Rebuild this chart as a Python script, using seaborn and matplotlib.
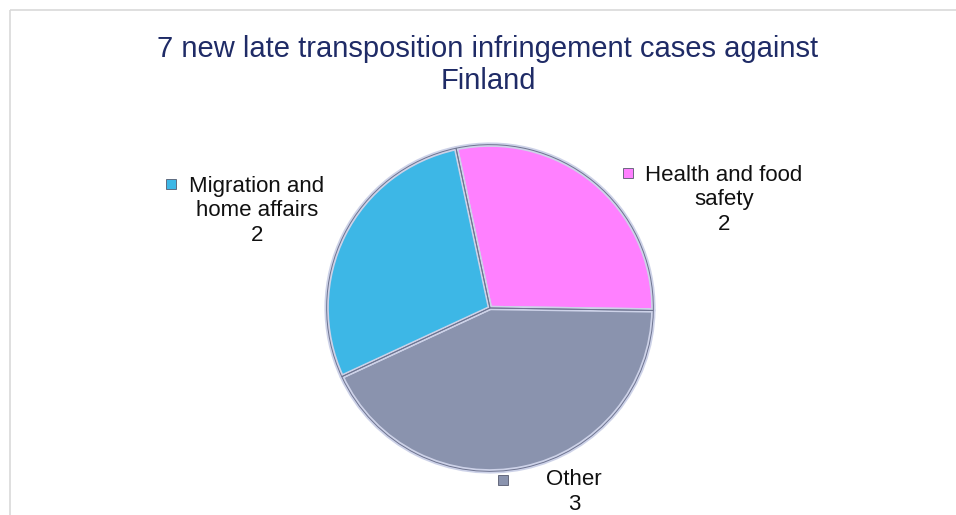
import matplotlib
matplotlib.use("Agg")
import matplotlib.pyplot as plt
import seaborn as sns
from matplotlib.patches import Rectangle

# data
categories = ["Health and food\nsafety", "Other", "Migration and\nhome affairs"]
case_counts = [2, 3, 2]
slice_colors = ["#FF80FF", "#8A93AE", "#3DB7E6"]
chart_title = "7 new late transposition infringement cases against\nFinland"

sns.set_theme(style="white")
plt.rcParams["font.family"] = ["Liberation Sans", "DejaVu Sans"]

W, H = 956, 515
fig = plt.figure(figsize=(W / 100, H / 100), dpi=100)
fig.patch.set_facecolor("white")

# background axes in pixel coordinates for frame, title and labels
bg = fig.add_axes([0, 0, 1, 1])
bg.set_xlim(0, W)
bg.set_ylim(H, 0)
bg.axis("off")
bg.add_patch(Rectangle((10, 10), W, H, fill=False, edgecolor="#d9d9d9", lw=1.2))
bg.text(488, 65, chart_title, ha="center", va="center", fontsize=21,
        color="#1F2B66", linespacing=1.2)

# pie axes: centre (490, 308) px, radius ~165 px
cx, cy, r = 490, 308, 165
ax = fig.add_axes([(cx - r) / W, (H - cy - r) / H, 2 * r / W, 2 * r / H])
wedges, _ = ax.pie(
    case_counts,
    colors=slice_colors,
    startangle=102,
    counterclock=False,
    radius=0.99,
    wedgeprops=dict(edgecolor="#CDD2E8", linewidth=3.2),
)
for w in wedges:
    w.set_joinstyle("round")
# thin darker outer rim
ax.pie(case_counts, colors=["none"] * 3, startangle=102, counterclock=False,
       radius=0.99, wedgeprops=dict(edgecolor="#6E7490", linewidth=0.7, fill=False))
ax.set_xlim(-1.0, 1.0)
ax.set_ylim(-1.0, 1.0)
ax.set_aspect("equal")
ax.axis("off")

# data labels with legend-key squares (pixel positions)
label_spots = [(724, 200, 628, 173), (574, 492, 503, 480), (257, 211, 171, 184)]
for name, n, col, (tx, ty, mx, my) in zip(categories, case_counts, slice_colors, label_spots):
    bg.text(tx, ty, f"{name}\n{n}", ha="center", va="center", fontsize=16,
            color="#111111", linespacing=1.2)
    bg.add_patch(Rectangle((mx - 5, my - 5), 10, 10, facecolor=col,
                           edgecolor="#555a6e", lw=0.6))

fig.savefig("out.png", dpi=100)
